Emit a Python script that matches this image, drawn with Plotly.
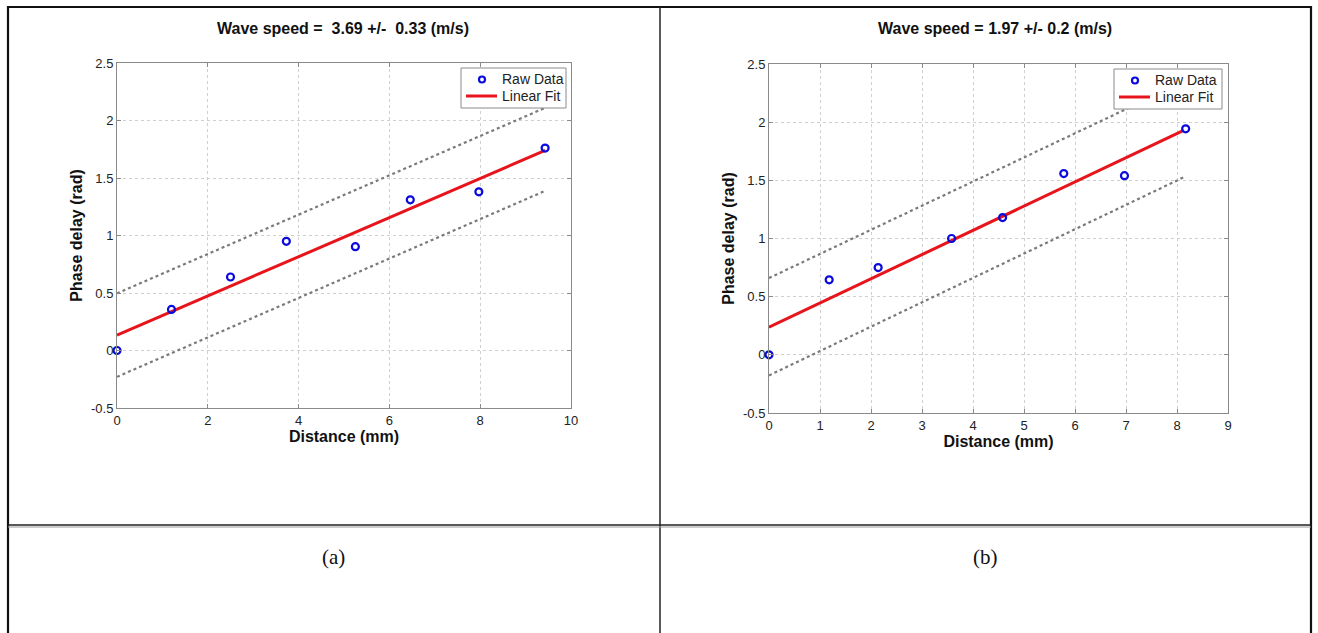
import plotly.graph_objects as go

W, H = 1318, 633

# ---- Data panel (a) ----
a_dist = [0.0, 1.2, 2.5, 3.73, 5.25, 6.46, 7.97, 9.43]
a_phase = [0.0, 0.357, 0.639, 0.949, 0.903, 1.31, 1.38, 1.76]
a_fit_x = [0.0, 9.43]
a_fit_y = [0.134, 1.74]
a_upper_y = [0.497, 2.11]
a_lower_y = [-0.229, 1.388]
a_title = "Wave speed =  3.69 +/-  0.33 (m/s)"

# ---- Data panel (b) ----
b_dist = [0.0, 1.18, 2.14, 3.58, 4.58, 5.78, 6.97, 8.17]
b_phase = [0.0, 0.645, 0.75, 1.0, 1.18, 1.558, 1.54, 1.943]
b_fit_x = [0.0, 8.13]
b_fit_y = [0.237, 1.93]
b_band_x = [0.0, 8.15]
b_upper_y = [0.66, 2.35]
b_lower_y = [-0.177, 1.53]
b_title = "Wave speed = 1.97 +/- 0.2 (m/s)"

a_xticks = [0, 2, 4, 6, 8, 10]
b_xticks = [0, 1, 2, 3, 4, 5, 6, 7, 8, 9]
yticks = [-0.5, 0, 0.5, 1, 1.5, 2, 2.5]
yticklabels = ["-0.5", "0", "0.5", "1", "1.5", "2", "2.5"]
captions = ["(a)", "(b)"]

fig = go.Figure()

band_style = dict(color="#7a7a7a", width=2.2, dash="dot")
fit_style = dict(color="#e8141b", width=3)
marker_style = dict(symbol="circle-open", size=7, color="#0a0adc", line=dict(width=2.2, color="#0a0adc"))

# panel a
fig.add_trace(go.Scatter(x=a_fit_x, y=a_upper_y, mode="lines", line=band_style, showlegend=False, xaxis="x", yaxis="y"))
fig.add_trace(go.Scatter(x=a_fit_x, y=a_lower_y, mode="lines", line=band_style, showlegend=False, xaxis="x", yaxis="y"))
fig.add_trace(go.Scatter(x=a_fit_x, y=a_fit_y, mode="lines", line=fit_style, showlegend=False, xaxis="x", yaxis="y"))
fig.add_trace(go.Scatter(x=a_dist, y=a_phase, mode="markers", marker=marker_style, showlegend=False, xaxis="x", yaxis="y", cliponaxis=False))

# panel b
fig.add_trace(go.Scatter(x=b_band_x, y=b_upper_y, mode="lines", line=band_style, showlegend=False, xaxis="x2", yaxis="y2"))
fig.add_trace(go.Scatter(x=b_band_x, y=b_lower_y, mode="lines", line=band_style, showlegend=False, xaxis="x2", yaxis="y2"))
fig.add_trace(go.Scatter(x=b_fit_x, y=b_fit_y, mode="lines", line=fit_style, showlegend=False, xaxis="x2", yaxis="y2"))
fig.add_trace(go.Scatter(x=b_dist, y=b_phase, mode="markers", marker=marker_style, showlegend=False, xaxis="x2", yaxis="y2", cliponaxis=False))

tickfont = dict(family="Liberation Sans", size=13, color="#222")
titlefont = dict(family="Liberation Sans", size=16, color="#111")


def xaxis(dom, rng, ticks, anchor):
    return dict(domain=dom, range=rng, tickvals=ticks, anchor=anchor, automargin=False,
                showgrid=True, gridcolor="#cfcfcf", griddash="dot", gridwidth=1,
                zeroline=False, showline=True, linecolor="#8a8a8a", linewidth=1, mirror="ticks",
                ticks="inside", ticklen=4, tickcolor="#8a8a8a", tickfont=tickfont,
                title=dict(text="<b>Distance (mm)</b>", font=titlefont, standoff=0))


def yaxis(dom, anchor):
    return dict(domain=dom, range=[-0.5, 2.5], tickvals=yticks, ticktext=yticklabels, anchor=anchor,
                automargin=False,
                showgrid=True, gridcolor="#cfcfcf", griddash="dot", gridwidth=1,
                zeroline=False, showline=True, linecolor="#8a8a8a", linewidth=1, mirror="ticks",
                ticks="inside", ticklen=4, tickcolor="#8a8a8a", tickfont=tickfont,
                ticklabelstandoff=0,
                title=dict(text="<b>Phase delay (rad)</b>", font=titlefont, standoff=4))


fig.update_layout(
    width=W, height=H, margin=dict(l=0, r=0, t=0, b=0, pad=0, autoexpand=False),
    paper_bgcolor="white", plot_bgcolor="white", showlegend=False,
    xaxis=xaxis([117 / W, 571 / W], [0, 10], a_xticks, "y"),
    yaxis=yaxis([1 - 408 / H, 1 - 63 / H], "x"),
    xaxis2=xaxis([769 / W, 1228 / W], [0, 9], b_xticks, "y2"),
    yaxis2=yaxis([1 - 413 / H, 1 - 64 / H], "x2"),
)


def px_line(x0, y0, x1, y1, color, width):
    return dict(type="line", xref="paper", yref="paper", x0=x0 / W, x1=x1 / W, y0=1 - y0 / H, y1=1 - y1 / H,
                line=dict(color=color, width=width))


shapes = [
    px_line(7, 7, 1312, 7, "#111", 2.2),
    px_line(8, 6, 8, 640, "#111", 2.2),
    px_line(1311, 6, 1311, 640, "#111", 2.2),
    px_line(660, 7, 660, 640, "#222", 1.5),
    px_line(8, 525, 1311, 525, "#222", 1.5),
    px_line(8, 527, 1311, 527, "#9a9a9a", 1),
]
fig.update_layout(shapes=shapes)

# Legends drawn manually (white box with border, marker & line samples)
legend_boxes = [(461, 566, 68, 108), (1114, 1222, 69, 109)]
for (lx0, lx1, ly0, ly1) in legend_boxes:
    fig.add_shape(type="rect", xref="paper", yref="paper", x0=lx0 / W, x1=lx1 / W, y0=1 - ly1 / H, y1=1 - ly0 / H,
                  line=dict(color="#8a8a8a", width=1), fillcolor="white", layer="above")
    fig.add_shape(type="line", xref="paper", yref="paper", x0=(lx0 + 5) / W, x1=(lx0 + 36) / W,
                  y0=1 - (ly0 + 28) / H, y1=1 - (ly0 + 28) / H, line=dict(color="#e8141b", width=3), layer="above")
    cx, cy = lx0 + 21, ly0 + 11.5
    fig.add_shape(type="circle", xref="paper", yref="paper", x0=(cx - 3) / W, x1=(cx + 3) / W,
                  y0=1 - (cy + 3) / H, y1=1 - (cy - 3) / H, line=dict(color="#0a0adc", width=2.2), layer="above")
    fig.add_annotation(xref="paper", yref="paper", x=(lx0 + 39) / W, y=1 - (ly0 + 11) / H, text="Raw Data",
                       showarrow=False, font=dict(family="Liberation Sans", size=14, color="#222"),
                       xanchor="left", yanchor="middle")
    fig.add_annotation(xref="paper", yref="paper", x=(lx0 + 39) / W, y=1 - (ly0 + 28) / H, text="Linear Fit",
                       showarrow=False, font=dict(family="Liberation Sans", size=14, color="#222"),
                       xanchor="left", yanchor="middle")

# Titles
fig.add_annotation(xref="paper", yref="paper", x=343 / W, y=1 - 29 / H, text="<b>" + a_title + "</b>",
                   showarrow=False, font=dict(family="Liberation Sans", size=16, color="#111"),
                   xanchor="center", yanchor="middle")
fig.add_annotation(xref="paper", yref="paper", x=995 / W, y=1 - 29 / H, text="<b>" + b_title + "</b>",
                   showarrow=False, font=dict(family="Liberation Sans", size=16, color="#111"),
                   xanchor="center", yanchor="middle")

# Captions
fig.add_annotation(xref="paper", yref="paper", x=333 / W, y=1 - 557 / H, text=captions[0],
                   showarrow=False, font=dict(family="Liberation Serif", size=21, color="#111"),
                   xanchor="center", yanchor="middle")
fig.add_annotation(xref="paper", yref="paper", x=986 / W, y=1 - 557 / H, text=captions[1],
                   showarrow=False, font=dict(family="Liberation Serif", size=21, color="#111"),
                   xanchor="center", yanchor="middle")

post = ("document.body.style.margin='0';document.body.style.overflow='hidden';"
        "var d=document.getElementById('{plot_id}');d.style.position='fixed';d.style.left='0px';d.style.top='0px';")
fig.write_html("out.html", config={"displayModeBar": False}, post_script=post)
